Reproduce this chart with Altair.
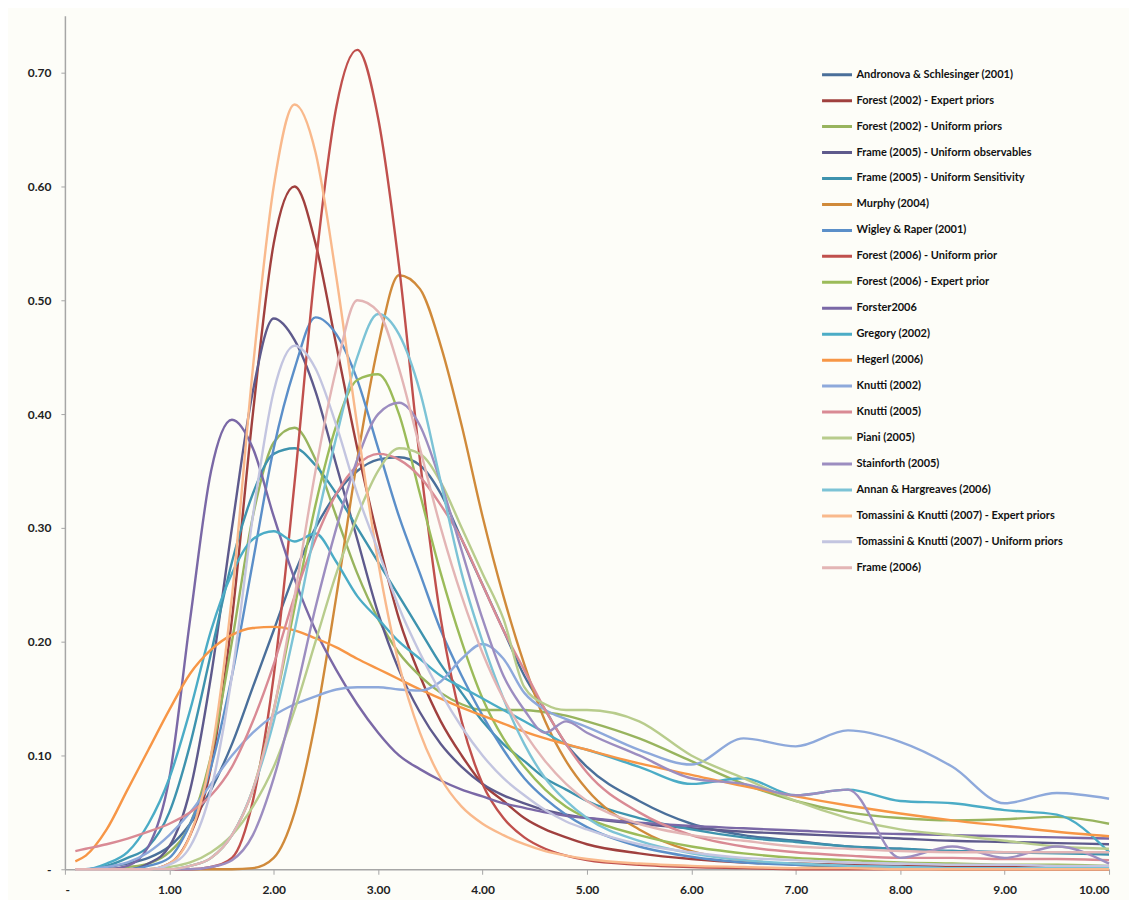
import altair as alt
import pandas as pd

X = [0.1, 0.2, 0.4, 0.6, 0.8, 1.0, 1.2, 1.4, 1.6, 1.8, 2.0, 2.2, 2.4, 2.6, 2.8, 3.0, 3.2, 3.4,
     3.6, 3.8, 4.0, 4.2, 4.4, 4.6, 4.8, 5.0, 5.5, 6.0, 6.5, 7.0, 7.5, 8.0, 8.5, 9.0, 9.5, 10.0]

SERIES = [
    "Andronova & Schlesinger (2001)",
    "Forest (2002) - Expert priors",
    "Forest (2002) - Uniform priors",
    "Frame (2005) - Uniform observables",
    "Frame (2005) - Uniform Sensitivity",
    "Murphy (2004)",
    "Wigley & Raper (2001)",
    "Forest (2006) - Uniform prior",
    "Forest (2006) - Expert prior",
    "Forster2006",
    "Gregory (2002)",
    "Hegerl (2006)",
    "Knutti (2002)",
    "Knutti (2005)",
    "Piani (2005)",
    "Stainforth (2005)",
    "Annan & Hargreaves (2006)",
    "Tomassini & Knutti (2007) - Expert priors",
    "Tomassini & Knutti (2007) - Uniform priors",
    "Frame (2006)",
]

COLORS = [
    "#4a6f9a", "#a0403e", "#98b45e", "#5e5a8c", "#3e93ae",
    "#d08a3a", "#5b8fc9", "#c0504d", "#9bbb59", "#7a68a6",
    "#4bacc6", "#f79646", "#8ea9db", "#d98a94", "#b8cc8c",
    "#9c8dc0", "#7cc3d6", "#f9b98c", "#c3c5e0", "#e3b5b5",
]

Y_ANDRONOVA = [0, 0, 0.002, 0.005, 0.01, 0.02, 0.04, 0.07, 0.11, 0.16, 0.21, 0.26, 0.30, 0.33, 0.35, 0.36, 0.362, 0.355,
               0.33, 0.29, 0.25, 0.21, 0.17, 0.14, 0.11, 0.09, 0.06, 0.04, 0.03, 0.025, 0.02, 0.018, 0.016, 0.015, 0.015, 0.015]
Y_FOREST02_EXP = [0, 0, 0, 0, 0, 0.005, 0.03, 0.09, 0.22, 0.40, 0.55, 0.60, 0.55, 0.46, 0.37, 0.29, 0.22, 0.17,
                  0.13, 0.10, 0.075, 0.06, 0.045, 0.035, 0.028, 0.022, 0.014, 0.009, 0.006, 0.005, 0.004, 0.003, 0.003, 0.002, 0.002, 0.002]
Y_FOREST02_UNI = [0, 0, 0, 0.002, 0.005, 0.015, 0.04, 0.10, 0.20, 0.31, 0.375, 0.388, 0.36, 0.31, 0.26, 0.22, 0.19, 0.17,
                  0.155, 0.145, 0.14, 0.14, 0.14, 0.138, 0.135, 0.13, 0.115, 0.095, 0.075, 0.06, 0.05, 0.045, 0.043, 0.044, 0.046, 0.04]
Y_FRAME05_OBS = [0, 0, 0, 0, 0.005, 0.02, 0.07, 0.17, 0.30, 0.42, 0.484, 0.465, 0.42, 0.355, 0.29, 0.225, 0.175, 0.138,
                 0.11, 0.09, 0.075, 0.065, 0.058, 0.052, 0.048, 0.045, 0.04, 0.036, 0.033, 0.031, 0.029, 0.027, 0.025, 0.024, 0.023, 0.022]
Y_FRAME05_SENS = [0, 0, 0.003, 0.01, 0.02, 0.05, 0.11, 0.19, 0.27, 0.33, 0.365, 0.37, 0.355, 0.33, 0.30, 0.27, 0.24, 0.21,
                  0.18, 0.155, 0.13, 0.11, 0.095, 0.08, 0.07, 0.06, 0.045, 0.035, 0.028, 0.024, 0.02, 0.018, 0.016, 0.015, 0.014, 0.013]
Y_MURPHY = [0, 0, 0, 0, 0, 0, 0, 0, 0, 0.001, 0.01, 0.05, 0.13, 0.24, 0.36, 0.46, 0.522, 0.51,
            0.46, 0.39, 0.31, 0.24, 0.18, 0.13, 0.095, 0.07, 0.035, 0.016, 0.008, 0.004, 0.002, 0.001, 0, 0, 0, 0]
Y_WIGLEY = [0, 0, 0, 0, 0.003, 0.01, 0.04, 0.09, 0.17, 0.27, 0.37, 0.44, 0.485, 0.47, 0.43, 0.37, 0.31, 0.26,
            0.21, 0.17, 0.135, 0.105, 0.08, 0.062, 0.048, 0.037, 0.02, 0.011, 0.006, 0.004, 0.003, 0.002, 0.001, 0.001, 0.001, 0.001]
Y_FOREST06_UNI = [0, 0, 0, 0, 0, 0, 0, 0.002, 0.01, 0.06, 0.17, 0.34, 0.53, 0.67, 0.72, 0.66, 0.53, 0.36,
                  0.22, 0.13, 0.075, 0.045, 0.028, 0.018, 0.012, 0.008, 0.004, 0.002, 0.001, 0, 0, 0, 0, 0, 0, 0]
Y_FOREST06_EXP = [0, 0, 0, 0, 0, 0, 0.003, 0.01, 0.03, 0.07, 0.14, 0.23, 0.32, 0.39, 0.43, 0.435, 0.40, 0.33,
                  0.26, 0.20, 0.15, 0.115, 0.09, 0.07, 0.055, 0.045, 0.03, 0.02, 0.014, 0.01, 0.008, 0.006, 0.005, 0.004, 0.004, 0.003]
Y_FORSTER = [0, 0, 0, 0.003, 0.02, 0.08, 0.22, 0.35, 0.395, 0.37, 0.31, 0.255, 0.21, 0.175, 0.145, 0.12, 0.10, 0.088,
             0.078, 0.07, 0.064, 0.058, 0.054, 0.05, 0.047, 0.045, 0.041, 0.038, 0.036, 0.034, 0.032, 0.031, 0.03, 0.029, 0.028, 0.027]
Y_GREGORY = [0, 0, 0.005, 0.015, 0.04, 0.08, 0.14, 0.21, 0.26, 0.29, 0.297, 0.288, 0.295, 0.27, 0.24, 0.22, 0.20, 0.185,
             0.17, 0.16, 0.15, 0.14, 0.13, 0.12, 0.11, 0.105, 0.09, 0.075, 0.08, 0.065, 0.07, 0.06, 0.058, 0.052, 0.048, 0.015]
Y_HEGERL = [0.007, 0.012, 0.035, 0.07, 0.105, 0.14, 0.172, 0.193, 0.206, 0.212, 0.213, 0.21, 0.203, 0.195, 0.185, 0.176, 0.167, 0.158,
            0.15, 0.142, 0.135, 0.128, 0.121, 0.115, 0.11, 0.105, 0.093, 0.083, 0.073, 0.064, 0.056, 0.049, 0.043, 0.038, 0.033, 0.029]
Y_KNUTTI02 = [0, 0, 0.002, 0.006, 0.015, 0.03, 0.05, 0.075, 0.10, 0.12, 0.135, 0.145, 0.152, 0.158, 0.16, 0.16, 0.158, 0.157,
              0.165, 0.185, 0.198, 0.185, 0.155, 0.14, 0.132, 0.125, 0.105, 0.092, 0.115, 0.108, 0.122, 0.112, 0.09, 0.058, 0.067, 0.062]
Y_KNUTTI05 = [0.016, 0.018, 0.022, 0.027, 0.033, 0.04, 0.05, 0.065, 0.09, 0.13, 0.18, 0.24, 0.29, 0.33, 0.355, 0.365, 0.36, 0.345,
              0.32, 0.29, 0.25, 0.21, 0.175, 0.14, 0.11, 0.085, 0.05, 0.03, 0.02, 0.015, 0.012, 0.01, 0.01, 0.009, 0.009, 0.008]
Y_PIANI = [0, 0, 0, 0, 0, 0.002, 0.006, 0.015, 0.03, 0.055, 0.09, 0.14, 0.20, 0.26, 0.31, 0.35, 0.37, 0.365,
           0.34, 0.30, 0.26, 0.22, 0.16, 0.145, 0.14, 0.14, 0.13, 0.10, 0.08, 0.06, 0.045, 0.035, 0.03, 0.025, 0.02, 0.018]
Y_STAINFORTH = [0, 0, 0, 0, 0, 0, 0, 0.002, 0.008, 0.03, 0.08, 0.15, 0.23, 0.30, 0.36, 0.40, 0.41, 0.39,
                0.34, 0.28, 0.22, 0.17, 0.14, 0.12, 0.13, 0.12, 0.10, 0.08, 0.075, 0.065, 0.07, 0.01, 0.02, 0.01, 0.02, 0.005]
Y_ANNAN = [0, 0, 0, 0, 0, 0, 0.003, 0.01, 0.03, 0.07, 0.13, 0.21, 0.30, 0.38, 0.45, 0.488, 0.47, 0.42,
           0.34, 0.26, 0.20, 0.15, 0.11, 0.08, 0.06, 0.045, 0.025, 0.014, 0.008, 0.005, 0.003, 0.002, 0.001, 0.001, 0.001, 0.001]
Y_TOMASSINI_EXP = [0, 0, 0, 0, 0, 0.005, 0.03, 0.10, 0.24, 0.44, 0.60, 0.672, 0.63, 0.52, 0.39, 0.27, 0.18, 0.12,
                   0.08, 0.055, 0.04, 0.03, 0.022, 0.016, 0.012, 0.009, 0.005, 0.003, 0.002, 0.001, 0.001, 0, 0, 0, 0, 0]
Y_TOMASSINI_UNI = [0, 0, 0, 0, 0, 0.004, 0.02, 0.07, 0.17, 0.31, 0.42, 0.46, 0.44, 0.39, 0.33, 0.28, 0.23, 0.19,
                   0.155, 0.125, 0.1, 0.08, 0.065, 0.052, 0.042, 0.035, 0.022, 0.015, 0.01, 0.008, 0.006, 0.005, 0.004, 0.004, 0.003, 0.003]
Y_FRAME06 = [0, 0, 0, 0, 0, 0, 0.003, 0.01, 0.03, 0.07, 0.14, 0.24, 0.35, 0.44, 0.50, 0.49, 0.44, 0.37,
             0.30, 0.24, 0.19, 0.15, 0.12, 0.095, 0.075, 0.06, 0.04, 0.03, 0.025, 0.02, 0.018, 0.016, 0.015, 0.015, 0.015, 0.015]

ALL_Y = [Y_ANDRONOVA, Y_FOREST02_EXP, Y_FOREST02_UNI, Y_FRAME05_OBS, Y_FRAME05_SENS, Y_MURPHY,
         Y_WIGLEY, Y_FOREST06_UNI, Y_FOREST06_EXP, Y_FORSTER, Y_GREGORY, Y_HEGERL, Y_KNUTTI02,
         Y_KNUTTI05, Y_PIANI, Y_STAINFORTH, Y_ANNAN, Y_TOMASSINI_EXP, Y_TOMASSINI_UNI, Y_FRAME06]

rows = []
for i, (name, ys) in enumerate(zip(SERIES, ALL_Y)):
    for x, y in zip(X, ys):
        rows.append({"series": name, "order": i, "x": x, "y": y})
df = pd.DataFrame(rows)

FONT = "Lato"
LABEL_EXPR = "datum.value == 0 ? '-' : format(datum.value, '.2f')"

chart = alt.Chart(df).mark_line(interpolate="monotone", strokeWidth=2.4).encode(
    x=alt.X("x:Q", scale=alt.Scale(domain=[0, 10], nice=False, zero=True),
            axis=alt.Axis(title=None, values=list(range(0, 11)), labelExpr=LABEL_EXPR,
                          grid=False, domainColor="#a6a6a6", domainWidth=1.5,
                          tickColor="#a6a6a6", tickSize=5, labelPadding=10,
                          labelFont=FONT, labelFontSize=12, labelFontWeight="bold",
                          labelColor="#222222")),
    y=alt.Y("y:Q", scale=alt.Scale(domain=[0, 0.75], nice=False),
            axis=alt.Axis(title=None, values=[0, 0.1, 0.2, 0.3, 0.4, 0.5, 0.6, 0.7], labelExpr=LABEL_EXPR,
                          grid=False, domainColor="#a6a6a6", domainWidth=1.5,
                          tickColor="#a6a6a6", tickSize=4, labelPadding=10,
                          labelFont=FONT, labelFontSize=12, labelFontWeight="bold",
                          labelColor="#222222")),
    color=alt.Color("series:N", scale=alt.Scale(domain=SERIES, range=COLORS),
                    legend=alt.Legend(orient="none", legendX=757, legendY=46, title=None,
                                      symbolType="stroke", symbolSize=900, symbolStrokeWidth=3,
                                      clipHeight=26, rowPadding=0, labelOffset=3,
                                      labelFont=FONT, labelFontSize=11, labelFontWeight="bold",
                                      labelColor="#111111", labelLimit=400)),
    detail="series:N",
).properties(
    width=1046, height=855,
    autosize=alt.AutoSizeParams(type="none"),
    padding={"left": 57, "top": 7, "right": 20, "bottom": 30},
    background="#fdfdf8",
).configure_view(stroke=None)

chart.save("out.html", embed_options={"renderer": "svg", "actions": False})
